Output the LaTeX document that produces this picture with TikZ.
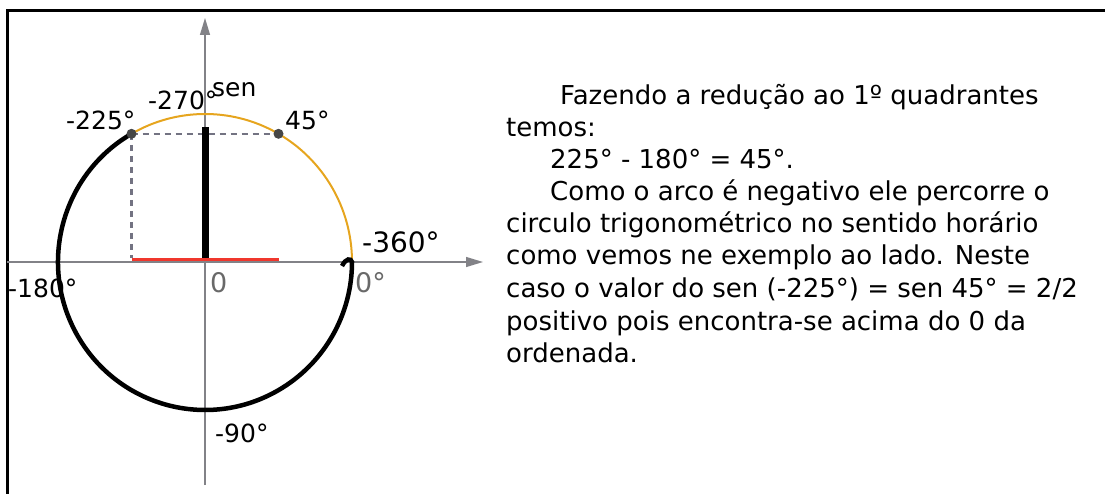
\documentclass[tikz,border=0pt]{standalone}
\usepackage{fontspec}
\setmainfont{DejaVu Sans}
\usetikzlibrary{arrows.meta}
\definecolor{axisgray}{RGB}{130,130,135}
\definecolor{arcyellow}{RGB}{230,165,30}
\definecolor{segred}{RGB}{240,55,45}
\definecolor{dashgray}{RGB}{115,115,130}
\definecolor{labelgray}{RGB}{105,105,105}
\definecolor{dotgray}{RGB}{70,70,70}
\tikzset{
  axisline/.style={draw=axisgray, line width=1.2pt, -{Triangle[length=17pt,width=10pt,fill=axisgray]}},
  yellowarc/.style={draw=arcyellow, line width=2pt},
  blackarc/.style={draw=black, line width=4.5pt},
  dashline/.style={draw=dashgray, line width=2.2pt, dash pattern=on 6pt off 5pt},
  lbl/.style={font=\fontsize{25}{30}\selectfont, inner sep=0pt, anchor=base west},
  biglbl/.style={lbl, font=\fontsize{28}{33}\selectfont},
  glbl/.style={lbl, font=\fontsize{27}{32}\selectfont, text=labelgray},
  para/.style={font=\fontsize{26}{32}\selectfont, inner sep=0pt, anchor=base west},
}
\begin{document}
\begin{tikzpicture}[x=1pt,y=1pt]
\useasboundingbox (0,0) rectangle (1105,-494);
% frame
\draw[line width=3pt] (7,-494) -- (7,-11) -- (1105,-11);
% key points
\coordinate (O) at (205,-262);
\coordinate (Zero) at (352,-262);
\coordinate (P45) at (278.5,-133.8);
\coordinate (P225) at (131.5,-133.8);
\coordinate (Xl) at (7,-262);
\coordinate (Xr) at (483,-262);
\coordinate (Yb) at (205,-485);
\coordinate (Yt) at (205,-18);
\coordinate (Barb) at (205,-258);
\coordinate (Bart) at (205,-127);
\coordinate (Rl) at (131.5,-260);
\coordinate (Rr) at (278.5,-260);
\coordinate (Dv) at (131.5,-258);
% axes
\draw[axisline] (Xl) -- (Xr);
\draw[axisline] (Yb) -- (Yt);
% yellow arc 0 -> 120
\draw[yellowarc] (Zero) arc[start angle=0, end angle=120, x radius=147, y radius=148];
% black arc 120 -> 360 with hook
\draw[blackarc] (P225) arc[start angle=120, end angle=360, x radius=147, y radius=148]
   .. controls (351,-258) and (346,-258) .. (342,-266);
% dashed projections
\draw[dashline] (P225) -- (P45);
\draw[dashline] (P225) -- (Dv);
% sine bar and red segment
\draw[line width=7pt] (Barb) -- (Bart);
\draw[draw=segred, line width=3pt] (Rl) -- (Rr);
% dots
\fill[dotgray] (P225) circle (5);
\fill[dotgray] (P45) circle (5);
% labels
\node[lbl] (lsen) at (212,-97) {sen};
\node[lbl] (l270) at (148,-110) {-270°};
\node[lbl] (l225) at (66,-130) {-225°};
\node[lbl] (l45) at (285,-130) {45°};
\node[biglbl] (l360) at (362,-253) {-360°};
\node[glbl] (l0d) at (355,-292) {0°};
\node[lbl] (l180) at (8,-297) {-180°};
\node[glbl] (l0) at (210,-292) {0};
\node[lbl] (l90) at (215,-442) {-90°};
% paragraph
\node[para] (t1) at (560,-105) {Fazendo a redução ao 1º quadrantes};
\node[para] (t2) at (506,-137) {temos:};
\node[para] (t3) at (550,-169) {225° - 180° = 45°.};
\node[para] (t4) at (550,-201) {Como o arco é negativo ele percorre o};
\node[para] (t5) at (506,-233) {circulo trigonométrico no sentido horário};
\node[para] (t6) at (506,-265) {como vemos ne exemplo ao lado. Neste};
\node[para] (t7) at (506,-298) {caso o valor do sen (-225°) = sen 45° = 2/2};
\node[para] (t8) at (506,-330) {positivo pois encontra-se acima do 0 da};
\node[para] (t9) at (506,-362) {ordenada.};
\end{tikzpicture}
\end{document}
